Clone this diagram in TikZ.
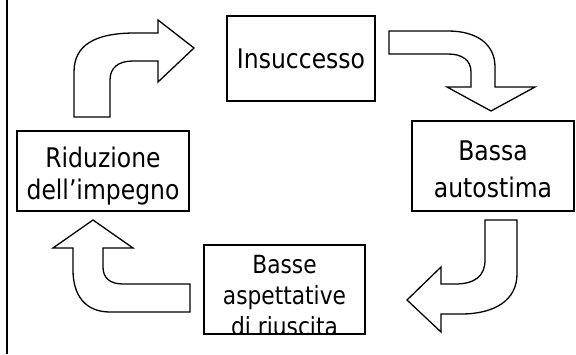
\documentclass[tikz,border=0pt]{standalone}
\usepackage{fontspec}
\setmainfont{DejaVu Sans}[FakeStretch=0.87]
\begin{document}
\begin{tikzpicture}[x=1pt,y=-1pt,
    box/.style={draw,line width=1.6pt,align=center,inner sep=0pt,
      font=\fontsize{27}{32}\selectfont},
    blk/.style={draw,line width=1.3pt,fill=white,line join=miter}]
  \useasboundingbox (0,0) rectangle (576,354);
  \draw[line width=1.6pt] (7,0) -- (7,354);
  \node[box,minimum width=148pt,minimum height=85pt] (ins) at (301,58.5) {Insuccesso};
  \node[box,minimum width=162pt,minimum height=90pt,text depth=0pt,
    font=\fontsize{27}{37}\selectfont] (bas) at (493,166) {\rule{0pt}{25pt}Bassa\\autostima};
  \node[box,minimum width=172pt,minimum height=80pt,text depth=0pt] (rid) at (103,171) {\rule{0pt}{24pt}Riduzione\\dell’impegno};
  \node[box,minimum width=161pt,minimum height=89pt] (asp) at (284.5,289.5) {};
  \begin{scope}
    \clip (asp.north west) rectangle (asp.south east);
    \node[align=center,inner sep=0pt,font=\fontsize{25}{31}\selectfont] (asptxt) at (284.5,296) {Basse\\aspettative\\di riuscita};
  \end{scope}
  % frecce
  \draw[blk] (74,117) -- (74,72) .. controls (74,45) and (95,33) .. (135,33)
    -- (158,33) -- (158,20) -- (194,48) -- (158,82) -- (158,61) -- (133,61)
    .. controls (118,61) and (110,68) .. (110,80) -- (110,117) -- cycle;
  \draw[blk] (389,31) -- (448,31) .. controls (478,31) and (495,45) .. (495,67)
    -- (495,87) -- (535,87) -- (491,111) -- (447,87) -- (471,87) -- (471,72)
    .. controls (471,60) and (462,54) .. (448,54) -- (389,54) -- cycle;
  \draw[blk] (517,220) -- (517,274) .. controls (517,300) and (495,314) .. (461,314)
    -- (441,314) -- (441,332) -- (407,300) -- (441,267) -- (441,284) -- (455,284)
    .. controls (475,284) and (485,276) .. (485,260) -- (485,220) -- cycle;
  \draw[blk] (190,312) -- (110,312) .. controls (85,312) and (73,295) .. (73,270)
    -- (73,248) -- (53,248) -- (93,220) -- (133,248) -- (103,248) -- (103,267)
    .. controls (103,278) and (110,284) .. (123,284) -- (190,284) -- cycle;
\end{tikzpicture}
\end{document}
